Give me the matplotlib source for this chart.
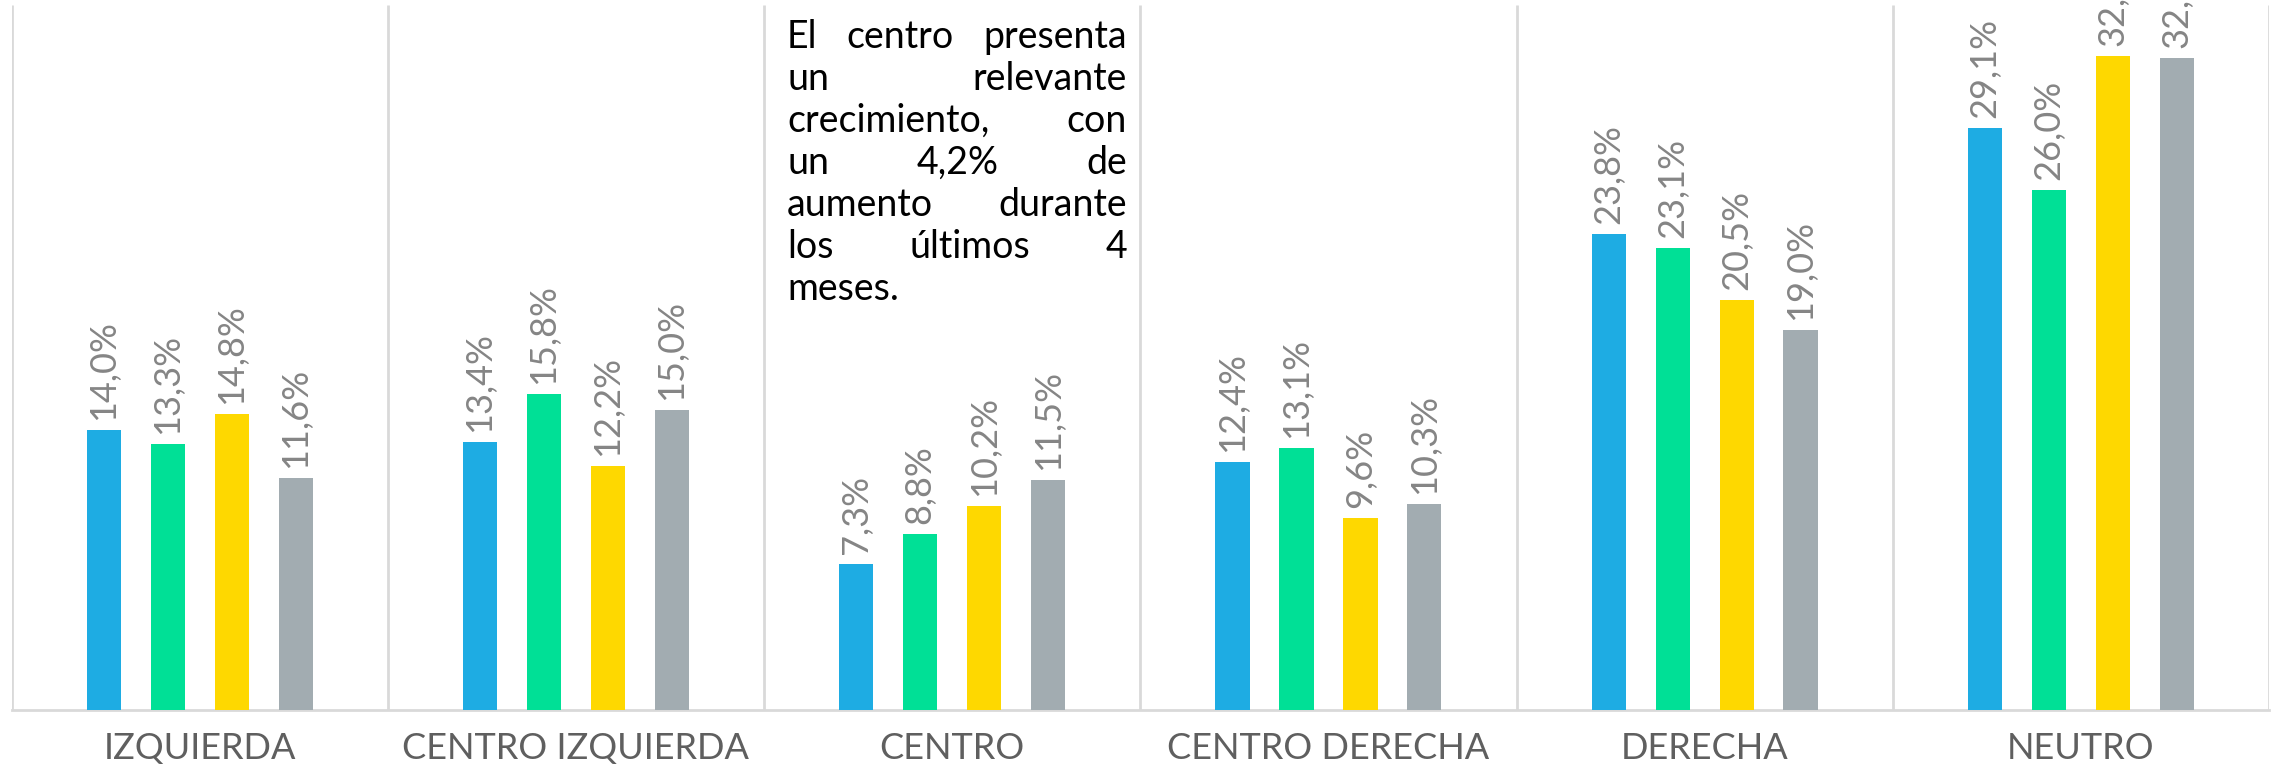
import matplotlib
matplotlib.use("Agg")
import matplotlib.pyplot as plt
import numpy as np

# data
categorias = ["IZQUIERDA", "CENTRO IZQUIERDA", "CENTRO", "CENTRO DERECHA", "DERECHA", "NEUTRO"]
serie_1 = [14.0, 13.4, 7.3, 12.4, 23.8, 29.1]
serie_2 = [13.3, 15.8, 8.8, 13.1, 23.1, 26.0]
serie_3 = [14.8, 12.2, 10.2, 9.6, 20.5, 32.7]
serie_4 = [11.6, 15.0, 11.5, 10.3, 19.0, 32.6]
colores = ["#1EACE3", "#00E096", "#FED800", "#A2ACB1"]

nota_lineas = [
    ["El", "centro", "presenta"],
    ["un", "relevante"],
    ["crecimiento,", "con"],
    ["un", "4,2%", "de"],
    ["aumento", "durante"],
    ["los", "últimos", "4"],
    ["meses."],
]

plt.rcParams['font.family'] = ['Lato', 'DejaVu Sans']

W, H = 2278, 768
fig = plt.figure(figsize=(W / 100, H / 100), dpi=100)
ax = fig.add_axes([11.6 / W, (H - 710) / H, (2269 - 11.6) / W, 705 / H])

x = np.arange(len(categorias))
offsets = [-0.255, -0.085, 0.085, 0.255]
ancho = 0.091
series = [serie_1, serie_2, serie_3, serie_4]

for serie, off, col in zip(series, offsets, colores):
    bars = ax.bar(x + off, serie, width=ancho, color=col, zorder=3)
    for b, v in zip(bars, serie):
        ax.text(b.get_x() + b.get_width() / 2, v + 0.5, "{:.1f}%".format(v).replace(".", ","),
                rotation=90, ha="center", va="bottom", fontsize=26, color="#858585",
                clip_on=False)

ax.set_xlim(-0.5, len(categorias) - 0.5)
ax.set_ylim(0, 35.25)

# separators between groups
ax.vlines(np.arange(-0.5, len(categorias)), 0, 35.25, color="#D9D9D9", linewidth=2, zorder=1)

for s in ["top", "left", "right"]:
    ax.spines[s].set_visible(False)
ax.spines["bottom"].set_color("#D9D9D9")
ax.spines["bottom"].set_linewidth(2)
ax.set_yticks([])
ax.set_xticks(x)
ax.set_xticklabels(categorias, fontsize=26, color="#5F5F5F")
ax.tick_params(axis="x", length=0, pad=16)

# justified note
fig.canvas.draw()
renderer = fig.canvas.get_renderer()
izq, der = 787, 1127
base0, paso = 48, 42
for i, palabras in enumerate(nota_lineas):
    yb = 1 - (base0 + paso * i) / H
    textos = [fig.text(0, yb, p, fontsize=27, color="black", va="baseline") for p in palabras]
    anchos = [t.get_window_extent(renderer).width for t in textos]
    if len(palabras) == 1 or i == len(nota_lineas) - 1:
        gap = 9
    else:
        gap = (der - izq - sum(anchos)) / (len(palabras) - 1)
    pos = izq
    for t, w in zip(textos, anchos):
        t.set_x(pos / W)
        pos += w + gap

fig.savefig("out.png", dpi=100)
